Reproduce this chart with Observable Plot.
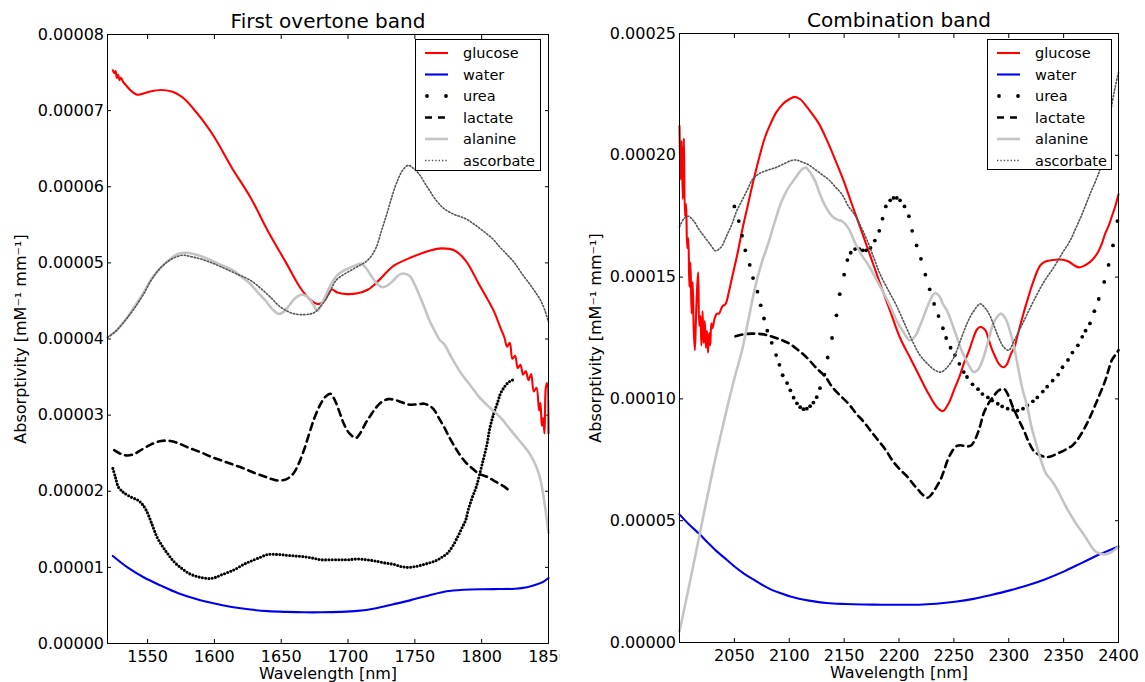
<!DOCTYPE html>
<html><head><meta charset="utf-8">
<script src="https://cdn.jsdelivr.net/npm/d3@7"></script>
<script src="https://cdn.jsdelivr.net/npm/@observablehq/plot@0.6"></script>
<style>
body{margin:0;background:#fff;font-family:"DejaVu Sans",sans-serif;}
#wrap{position:relative;width:1145px;height:682px;overflow:hidden;background:#fff}
.panel{position:absolute;top:0;height:682px;overflow:hidden}
.legend{position:absolute}
</style></head><body>
<div id="wrap">
  <div id="p1" class="panel" style="left:0;width:560px"></div>
  <div id="p2" class="panel" style="left:570px;width:575px"></div>
</div>
<script>
// values in units of 1e-5 mM^-1 mm^-1, wavelength in nm
const UNIT = 1e-5;
const seriesNames = ["glucose", "water", "urea", "lactate", "alanine", "ascorbate"];
const panelTitles = ["First overtone band", "Combination band"];
const xLabel = "Wavelength [nm]";
const yLabel = "Absorptivity [mM\u207B\u00B9 mm\u207B\u00B9]";
const xTicks1 = [1550, 1600, 1650, 1700, 1750, 1800, 1850];
const yTicks1 = [0, 1, 2, 3, 4, 5, 6, 7, 8];
const xTicks2 = [2050, 2100, 2150, 2200, 2250, 2300, 2350, 2400];
const yTicks2 = [0, 5, 10, 15, 20, 25];

// ---- First overtone band ----
const glucose1 = [[1524,7.53],[1525,7.49],[1526,7.52],[1527,7.43],[1528,7.47],[1529,7.40],[1530,7.43],[1532,7.37],[1534,7.33],[1536,7.29],[1539,7.24],[1542,7.21],[1546,7.22],[1552,7.25],[1560,7.27],[1568,7.25],[1574,7.20],[1579,7.13],[1584,7.03],[1590,6.90],[1600,6.65],[1613,6.25],[1627,5.86],[1640,5.42],[1654,4.99],[1664,4.68],[1672,4.51],[1677,4.46],[1680,4.47],[1682,4.50],[1685,4.58],[1688,4.65],[1692,4.61],[1699,4.59],[1707,4.60],[1715,4.65],[1723,4.77],[1729,4.88],[1734,4.96],[1747,5.07],[1761,5.16],[1770,5.19],[1780,5.16],[1788,5.03],[1798,4.72],[1809,4.37],[1814,4.15],[1817,4.02],[1819,3.90],[1821,3.95],[1823,3.74],[1825,3.78],[1827,3.62],[1829,3.66],[1831,3.53],[1833,3.58],[1835,3.46],[1837,3.54],[1839,3.31],[1841,3.36],[1843,3.06],[1844,3.16],[1845,2.86],[1846,2.96],[1847,2.76],[1848,3.36],[1849,3.42],[1850,2.76]];
const water1 = [[1524,1.15],[1535,1.00],[1547,0.87],[1560,0.76],[1573,0.66],[1587,0.58],[1600,0.525],[1613,0.48],[1627,0.446],[1640,0.425],[1654,0.415],[1667,0.41],[1680,0.41],[1694,0.415],[1707,0.428],[1720,0.46],[1734,0.516],[1747,0.57],[1761,0.634],[1772,0.68],[1782,0.70],[1792,0.71],[1801,0.713],[1813,0.715],[1825,0.72],[1834,0.74],[1841,0.774],[1846,0.81],[1850,0.86]];
const urea1 = [[1524,2.30],[1526,2.18],[1528,2.06],[1531,2.00],[1533,1.97],[1538,1.92],[1543,1.88],[1546,1.83],[1549,1.75],[1553,1.58],[1557,1.40],[1561,1.28],[1565,1.18],[1570,1.07],[1576,0.98],[1581,0.92],[1587,0.88],[1592,0.86],[1597,0.853],[1601,0.87],[1605,0.90],[1611,0.94],[1616,0.98],[1622,1.04],[1627,1.08],[1634,1.13],[1640,1.17],[1647,1.17],[1654,1.16],[1660,1.15],[1667,1.14],[1674,1.12],[1680,1.10],[1687,1.10],[1694,1.10],[1700,1.10],[1707,1.11],[1714,1.10],[1720,1.085],[1727,1.06],[1734,1.04],[1740,1.01],[1745,1.00],[1750,1.01],[1755,1.03],[1761,1.06],[1766,1.09],[1770,1.13],[1774,1.18],[1778,1.27],[1782,1.40],[1785,1.51],[1788,1.62],[1790,1.76],[1793,1.92],[1796,2.06],[1798,2.19],[1801,2.40],[1804,2.62],[1806,2.82],[1809,3.02],[1812,3.17],[1814,3.28],[1817,3.37],[1820,3.43],[1823,3.46],[1825,3.46]];
const lactate1 = [[1525,2.54],[1530,2.49],[1535,2.47],[1540,2.49],[1544,2.53],[1552,2.61],[1560,2.66],[1567,2.66],[1573,2.63],[1581,2.57],[1590,2.51],[1598,2.45],[1606,2.40],[1614,2.35],[1622,2.30],[1630,2.24],[1638,2.19],[1643,2.16],[1648,2.14],[1654,2.16],[1659,2.23],[1663,2.36],[1667,2.54],[1671,2.76],[1675,2.97],[1679,3.13],[1683,3.24],[1687,3.28],[1690,3.20],[1694,3.02],[1697,2.88],[1701,2.76],[1706,2.70],[1709,2.76],[1713,2.89],[1717,3.00],[1721,3.10],[1725,3.17],[1730,3.21],[1737,3.19],[1745,3.14],[1751,3.14],[1757,3.15],[1760,3.13],[1764,3.08],[1768,2.96],[1772,2.84],[1776,2.70],[1780,2.58],[1784,2.47],[1788,2.38],[1793,2.30],[1798,2.23],[1804,2.19],[1809,2.14],[1816,2.07],[1822,1.99]];
const alanine1 = [[1520,4.02],[1526,4.10],[1533,4.24],[1540,4.42],[1547,4.61],[1553,4.79],[1560,4.94],[1567,5.05],[1573,5.12],[1581,5.13],[1588,5.10],[1595,5.05],[1604,4.98],[1614,4.90],[1620,4.82],[1627,4.72],[1633,4.60],[1638,4.51],[1643,4.40],[1648,4.33],[1652,4.36],[1656,4.44],[1660,4.53],[1665,4.58],[1670,4.55],[1674,4.45],[1677,4.37],[1680,4.45],[1684,4.60],[1688,4.74],[1692,4.84],[1697,4.90],[1702,4.94],[1706,4.97],[1710,4.99],[1714,4.92],[1718,4.81],[1722,4.72],[1726,4.68],[1730,4.71],[1734,4.77],[1738,4.84],[1741,4.86],[1746,4.83],[1750,4.71],[1753,4.59],[1757,4.42],[1761,4.24],[1765,4.10],[1769,3.98],[1772,3.93],[1778,3.74],[1785,3.54],[1792,3.38],[1798,3.24],[1806,3.10],[1814,2.97],[1821,2.82],[1828,2.67],[1836,2.49],[1841,2.32],[1844,2.15],[1847,1.85],[1850,1.45]];
const ascorbate1 = [[1520,4.02],[1526,4.10],[1533,4.24],[1540,4.40],[1547,4.59],[1553,4.78],[1560,4.94],[1568,5.05],[1576,5.10],[1583,5.08],[1590,5.05],[1598,5.00],[1606,4.94],[1616,4.86],[1627,4.77],[1635,4.66],[1643,4.53],[1648,4.44],[1654,4.37],[1660,4.33],[1667,4.32],[1672,4.33],[1675,4.35],[1679,4.42],[1683,4.51],[1687,4.64],[1691,4.77],[1697,4.85],[1702,4.90],[1707,4.95],[1713,5.01],[1717,5.08],[1721,5.20],[1725,5.42],[1729,5.64],[1733,5.88],[1737,6.08],[1741,6.22],[1745,6.28],[1749,6.24],[1753,6.17],[1757,6.06],[1761,5.95],[1766,5.82],[1772,5.71],[1779,5.64],[1788,5.58],[1795,5.50],[1801,5.42],[1808,5.32],[1814,5.20],[1820,5.09],[1825,4.99],[1830,4.86],[1836,4.72],[1840,4.62],[1844,4.51],[1847,4.39],[1850,4.22]];

// ---- Combination band ----
const glucose2 = [[2000,21.2],[2001,19.0],[2002,20.6],[2003,18.2],[2004,20.7],[2005,17.5],[2006,18.0],[2007,16.2],[2008,16.6],[2009,14.6],[2010,15.6],[2011,13.5],[2012,14.8],[2013,12.8],[2014,12.0],[2015,13.3],[2016,14.5],[2017,15.2],[2018,13.0],[2019,13.4],[2020,12.2],[2021,13.6],[2022,12.3],[2023,13.2],[2024,12.1],[2025,12.8],[2026,11.9],[2027,12.7],[2028,12.2],[2029,13.1],[2030,12.9],[2032,13.3],[2034,13.5],[2036,13.5],[2039,13.8],[2042,13.9],[2045,14.4],[2048,15.0],[2053,16.0],[2057,16.9],[2062,17.9],[2066,18.7],[2072,19.8],[2078,20.75],[2083,21.3],[2088,21.75],[2094,22.1],[2100,22.3],[2105,22.4],[2110,22.3],[2115,22.05],[2120,21.75],[2127,21.3],[2135,20.55],[2142,19.8],[2150,18.9],[2157,18.0],[2165,17.0],[2174,15.85],[2183,14.7],[2192,13.6],[2201,12.5],[2210,11.7],[2219,10.9],[2227,10.2],[2235,9.64],[2240,9.5],[2245,9.8],[2250,10.35],[2255,10.9],[2259,11.44],[2264,12.0],[2268,12.54],[2271,12.85],[2274,12.95],[2277,12.9],[2279,12.8],[2282,12.4],[2285,12.0],[2288,11.7],[2291,11.44],[2295,11.3],[2298,11.4],[2300,11.6],[2302,11.85],[2305,12.1],[2308,12.6],[2311,13.1],[2314,13.6],[2317,14.05],[2320,14.5],[2323,14.9],[2326,15.25],[2329,15.5],[2334,15.65],[2340,15.7],[2346,15.72],[2352,15.68],[2356,15.6],[2359,15.5],[2364,15.4],[2368,15.45],[2372,15.55],[2376,15.7],[2381,16.0],[2385,16.4],[2388,16.8],[2391,17.1],[2394,17.5],[2397,17.9],[2400,18.4]];
const water2 = [[2000,5.26],[2009,4.83],[2018,4.46],[2026,4.09],[2034,3.74],[2043,3.40],[2051,3.09],[2059,2.82],[2068,2.57],[2076,2.35],[2084,2.16],[2093,2.01],[2101,1.89],[2109,1.80],[2118,1.72],[2134,1.62],[2151,1.58],[2168,1.56],[2184,1.55],[2201,1.55],[2218,1.55],[2234,1.59],[2251,1.67],[2268,1.79],[2284,1.95],[2301,2.14],[2318,2.36],[2334,2.61],[2351,2.93],[2368,3.30],[2384,3.64],[2400,3.94]];
const urea2 = [[2050,17.9],[2054,17.3],[2057,16.7],[2060,16.1],[2064,15.5],[2067,14.96],[2071,14.4],[2074,13.84],[2077,13.3],[2080,12.8],[2084,12.3],[2088,11.8],[2091,11.4],[2094,10.97],[2098,10.65],[2101,10.35],[2104,10.05],[2107,9.82],[2110,9.66],[2113,9.58],[2116,9.6],[2119,9.7],[2122,9.85],[2125,10.07],[2128,10.44],[2132,11.0],[2135,11.7],[2139,12.5],[2143,13.43],[2146,14.3],[2150,15.1],[2153,15.7],[2156,16.0],[2160,16.15],[2164,16.15],[2167,16.1],[2170,16.1],[2174,16.2],[2178,16.5],[2182,16.9],[2185,17.4],[2188,17.9],[2192,18.15],[2195,18.25],[2198,18.25],[2201,18.15],[2205,17.9],[2209,17.5],[2212,16.9],[2216,16.3],[2220,15.75],[2224,15.1],[2228,14.5],[2232,13.9],[2236,13.4],[2240,12.9],[2243,12.5],[2247,12.1],[2251,11.8],[2255,11.44],[2259,11.1],[2262,10.9],[2267,10.6],[2272,10.4],[2276,10.2],[2281,10.06],[2285,9.93],[2290,9.8],[2294,9.69],[2299,9.6],[2304,9.55],[2308,9.52],[2313,9.6],[2317,9.73],[2322,9.9],[2326,10.06],[2331,10.3],[2335,10.5],[2340,10.75],[2345,11.0],[2349,11.3],[2354,11.6],[2358,11.9],[2363,12.2],[2367,12.55],[2370,12.8],[2374,13.1],[2378,13.6],[2382,14.1],[2387,14.8],[2391,15.5],[2395,16.3],[2399,17.3]];
const lactate2 = [[2051,12.57],[2058,12.65],[2066,12.68],[2075,12.66],[2081,12.6],[2088,12.5],[2094,12.4],[2100,12.27],[2106,12.08],[2112,11.86],[2118,11.6],[2124,11.3],[2133,10.9],[2139,10.5],[2145,10.2],[2154,9.8],[2161,9.4],[2168,9.05],[2174,8.7],[2181,8.3],[2188,7.9],[2194,7.47],[2201,7.1],[2208,6.79],[2213,6.5],[2218,6.24],[2222,6.05],[2226,5.94],[2230,6.1],[2234,6.38],[2238,6.7],[2241,7.06],[2244,7.45],[2248,7.82],[2252,8.05],[2256,8.1],[2262,8.05],[2266,8.1],[2270,8.4],[2274,8.9],[2277,9.39],[2282,9.85],[2286,10.1],[2291,10.35],[2296,10.4],[2300,10.1],[2304,9.64],[2309,9.15],[2314,8.68],[2318,8.25],[2323,7.85],[2329,7.68],[2334,7.61],[2339,7.65],[2344,7.75],[2351,7.9],[2358,8.09],[2363,8.35],[2368,8.71],[2373,9.15],[2378,9.66],[2383,10.2],[2388,10.76],[2391,11.2],[2394,11.6],[2397,11.8],[2400,12.0]];
const alanine2 = [[2000,0.45],[2010,2.6],[2020,4.8],[2030,7.0],[2038,8.6],[2045,9.94],[2051,11.0],[2057,12.0],[2063,13.3],[2069,14.6],[2075,15.6],[2081,16.4],[2087,17.3],[2093,18.1],[2099,18.65],[2106,19.1],[2111,19.4],[2115,19.5],[2119,19.3],[2124,18.9],[2128,18.4],[2133,17.9],[2139,17.5],[2144,17.35],[2148,17.3],[2154,17.0],[2160,16.4],[2166,15.9],[2172,15.5],[2177,15.1],[2183,14.6],[2191,13.9],[2198,13.2],[2204,12.75],[2210,12.4],[2215,12.6],[2220,13.1],[2226,13.8],[2230,14.2],[2233,14.35],[2237,14.2],[2240,13.9],[2244,13.6],[2249,13.0],[2253,12.5],[2256,12.1],[2260,11.7],[2264,11.35],[2268,11.1],[2272,11.2],[2277,11.7],[2282,12.5],[2286,13.1],[2290,13.4],[2293,13.5],[2297,13.3],[2300,12.95],[2304,12.3],[2308,11.4],[2312,10.5],[2317,9.64],[2321,8.8],[2326,8.0],[2330,7.4],[2334,6.93],[2339,6.65],[2344,6.3],[2349,5.85],[2354,5.42],[2361,4.9],[2368,4.46],[2373,4.1],[2378,3.78],[2383,3.65],[2388,3.62],[2393,3.7],[2397,3.82],[2400,3.94]];
const ascorbate2 = [[2000,17.06],[2004,17.4],[2008,17.5],[2013,17.3],[2018,16.94],[2022,16.7],[2027,16.4],[2033,16.08],[2036,16.15],[2039,16.3],[2043,16.7],[2048,17.2],[2052,17.7],[2057,18.15],[2062,18.6],[2066,18.97],[2071,19.2],[2075,19.3],[2081,19.4],[2088,19.5],[2095,19.65],[2103,19.8],[2107,19.8],[2112,19.72],[2118,19.6],[2124,19.4],[2130,19.2],[2136,19.0],[2142,18.7],[2148,18.4],[2154,17.9],[2159,17.6],[2165,17.1],[2171,16.5],[2177,15.8],[2183,15.1],[2191,14.4],[2198,13.8],[2206,13.0],[2213,12.3],[2219,11.8],[2226,11.44],[2232,11.2],[2238,11.1],[2244,11.3],[2250,11.7],[2256,12.4],[2262,13.1],[2268,13.6],[2274,13.9],[2279,13.7],[2283,13.4],[2287,12.95],[2291,12.5],[2295,12.15],[2300,12.0],[2305,12.4],[2311,12.95],[2317,13.5],[2323,14.05],[2332,14.8],[2341,15.4],[2349,16.0],[2356,16.5],[2361,17.0],[2366,17.5],[2374,18.4],[2383,19.4],[2388,20.3],[2391,21.2],[2394,22.1],[2397,22.8],[2400,23.4]];

// ---- styles ----
const STY = {
  glucose:   {kind: "line", stroke: "#ff0000", width: 2.1},
  water:     {kind: "line", stroke: "#0000ee", width: 2.1},
  urea:      {kind: "dots", stroke: "#000"},
  lactate:   {kind: "line", stroke: "#000", width: 2.6, dash: "7,5"},
  alanine:   {kind: "line", stroke: "#c4c4c4", width: 2.6},
  ascorbate: {kind: "line", stroke: "#555", width: 1.6, dash: "1.4,2"}
};

const rows = pairs => pairs.map(([nm, v]) => ({nm, v: v * UNIT}));
const fmtY = d3.format(".5f");
const fmtX = d3.format("d");

function seriesMark(name, pairs, denseDots) {
  const s = STY[name];
  const data = rows(pairs);
  if (s.kind === "dots") {
    if (denseDots) {
      return Plot.line(data, {x: "nm", y: "v", stroke: "#000", strokeWidth: 3.1, strokeDasharray: "0,3.3", strokeLinecap: "round", curve: "catmull-rom"});
    }
    return Plot.dot(data, {x: "nm", y: "v", r: 1.9, fill: "#000", stroke: "none"});
  }
  return Plot.line(data, {x: "nm", y: "v", stroke: s.stroke, strokeWidth: s.width, strokeDasharray: s.dash, curve: "catmull-rom", strokeLinejoin: "round"});
}

function panel(cfg) {
  const marks = [
    Plot.axisX({ticks: cfg.xTicks, tickSize: 0, tickPadding: 7.5, tickFormat: fmtX, label: null, fontSize: 16}),
    Plot.axisX({ticks: cfg.xTicks, tickSize: -4, tickFormat: () => "", label: null}),
    Plot.axisX({anchor: "top", ticks: cfg.xTicks, tickSize: -4, tickFormat: () => "", label: null}),
    Plot.axisY({ticks: cfg.yTicks.map(t => t * UNIT), tickSize: 0, tickPadding: 3.5, tickFormat: fmtY, label: null, fontSize: 16}),
    Plot.axisY({ticks: cfg.yTicks.map(t => t * UNIT), tickSize: -4, tickFormat: () => "", label: null}),
    Plot.axisY({anchor: "right", ticks: cfg.yTicks.map(t => t * UNIT), tickSize: -4, tickFormat: () => "", label: null}),
    ...cfg.series.map(([name, pairs]) => seriesMark(name, pairs, cfg.denseDots)),
    Plot.frame({stroke: "#000", strokeWidth: 1}),
    Plot.text([cfg.title], {frameAnchor: "top", lineAnchor: "middle", dy: -13, fontSize: 20, fill: "#000"}),
    Plot.text([xLabel], {frameAnchor: "bottom", lineAnchor: "middle", dy: 30, fontSize: 16, fill: "#000"}),
    Plot.text([yLabel], {frameAnchor: "left", textAnchor: "middle", lineAnchor: "middle", dx: cfg.ylabelDx, rotate: -90, fontSize: 16, fill: "#000"})
  ];
  return Plot.plot({
    width: cfg.width, height: 682,
    marginLeft: cfg.mL, marginRight: cfg.mR, marginTop: cfg.mT, marginBottom: cfg.mB,
    x: {domain: cfg.xDomain},
    y: {domain: cfg.yDomain},
    style: {fontFamily: "DejaVu Sans", fontSize: "16px", color: "#000", background: "#fff", overflow: "hidden"},
    marks
  });
}

function legend(left, top, w, h) {
  const svg = d3.create("svg").attr("class", "legend").attr("width", w + 2).attr("height", h + 2)
    .style("left", left + "px").style("top", top + "px");
  svg.append("rect").attr("x", 0.5).attr("y", 0.5).attr("width", w).attr("height", h)
    .attr("fill", "#fff").attr("stroke", "#000").attr("stroke-width", 1);
  seriesNames.forEach((name, i) => {
    const s = STY[name];
    const cy = 14 + i * 21.5;
    if (s.kind === "dots") {
      [12, 31].forEach(cx => svg.append("circle").attr("cx", cx).attr("cy", cy).attr("r", 1.9).attr("fill", "#000"));
    } else {
      svg.append("line").attr("x1", 10).attr("x2", 33).attr("y1", cy).attr("y2", cy)
        .attr("stroke", s.stroke).attr("stroke-width", s.width)
        .attr("stroke-dasharray", name === "lactate" ? "7,6" : (s.dash || null));
    }
    svg.append("text").attr("x", 48).attr("y", cy).attr("dy", "0.35em")
      .attr("font-family", "DejaVu Sans").attr("font-size", 14.5).attr("fill", "#000").text(name);
  });
  return svg.node();
}

const p1 = panel({
  title: panelTitles[0], width: 560, mL: 107, mR: 12, mT: 34, mB: 39,
  xDomain: [1520, 1850], yDomain: [0, 8 * UNIT], xTicks: xTicks1, yTicks: yTicks1,
  ylabelDx: -87, denseDots: true,
  series: [["glucose", glucose1], ["water", water1], ["urea", urea1], ["lactate", lactate1], ["alanine", alanine1], ["ascorbate", ascorbate1]]
});
const p2 = panel({
  title: panelTitles[1], width: 575, mL: 109, mR: 27, mT: 33, mB: 40,
  xDomain: [2000, 2400], yDomain: [0, 25 * UNIT], xTicks: xTicks2, yTicks: yTicks2,
  ylabelDx: -84, denseDots: false,
  series: [["glucose", glucose2], ["water", water2], ["urea", urea2], ["lactate", lactate2], ["alanine", alanine2], ["ascorbate", ascorbate2]]
});
document.getElementById("p1").appendChild(p1);
document.getElementById("p2").appendChild(p2);
const wrap = document.getElementById("wrap");
wrap.appendChild(legend(415, 39, 125, 131));
wrap.appendChild(legend(987, 39, 124, 130));
</script>
</body></html>
